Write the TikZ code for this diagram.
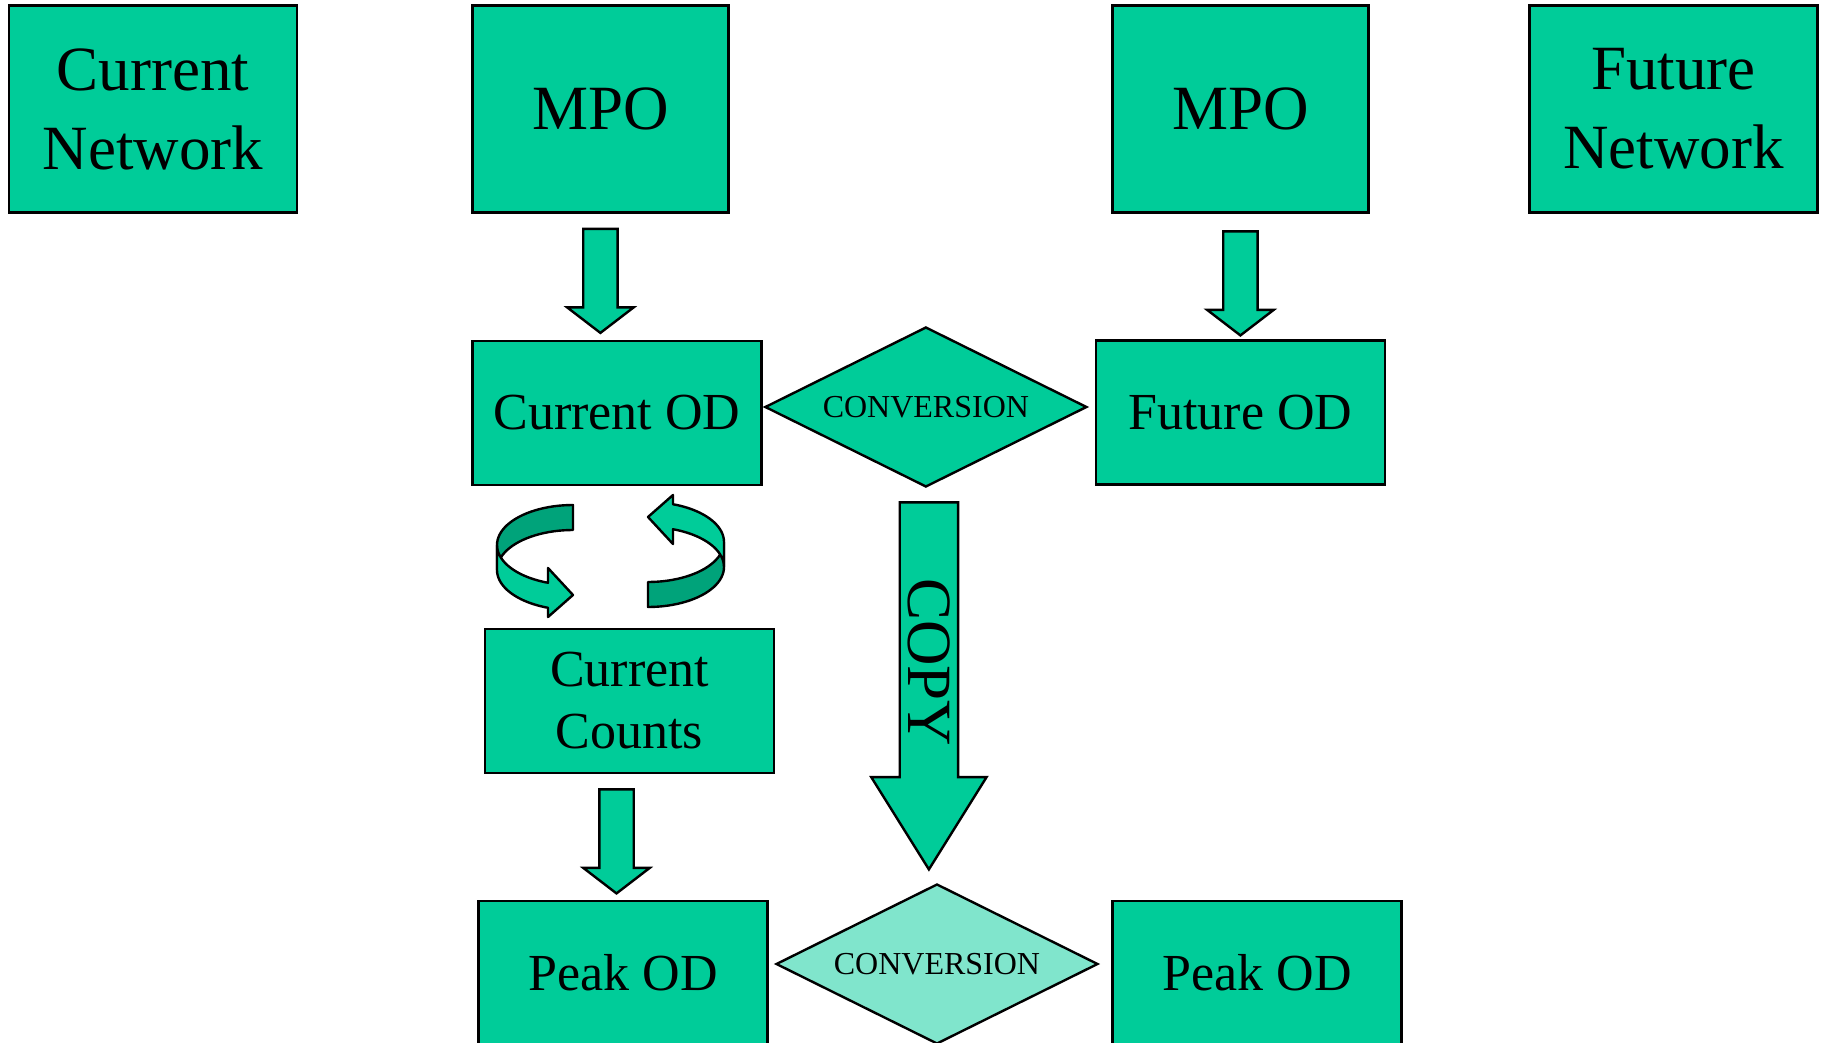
\documentclass[tikz,border=0pt]{standalone}
\usepackage{fontspec}
\setmainfont{Liberation Serif}
\usetikzlibrary{positioning,calc,shapes.geometric,shapes.arrows}
\definecolor{odgreen}{RGB}{0,204,153}
\definecolor{odshade}{RGB}{0,163,122}
\definecolor{odpale}{RGB}{128,229,204}
\newcommand{\netfont}{\fontsize{63}{79}\selectfont}
\newcommand{\odfont}{\fontsize{52}{62}\selectfont}
\newcommand{\convfont}{\fontsize{32}{38}\selectfont}

\tikzset{
  ribbon/.pic={
    % back half of the ring
    \filldraw[fill=odshade,draw=black,line width=2.4pt,line join=round]
      plot[domain=270:180] ({76*cos(\x)},{40*sin(\x)})
      -- plot[domain=180:270] ({76*cos(\x)},{25+40*sin(\x)}) -- cycle;
    % front half with the head
    \filldraw[fill=odgreen,draw=black,line width=2.4pt,line join=round]
      plot[domain=180:109.2] ({76*cos(\x)},{40*sin(\x)})
      -- (-25,23) -- (0,50) -- (-25,72)
      -- plot[domain=109.2:180] ({76*cos(\x)},{25+40*sin(\x)}) -- cycle;
  }
}

\begin{document}
\begin{tikzpicture}[
  x=1pt, y=-1pt,
  box/.style={draw,line width=2.4pt,fill=odgreen,align=center,inner sep=0pt,
              minimum width=289pt,minimum height=144pt,font=\odfont},
  tallbox/.style={box,minimum width=288pt,minimum height=207pt,font=\netfont},
  conv/.style={draw,diamond,aspect=2,line width=2.4pt,fill=odgreen,inner sep=0pt,
               minimum width=322pt,minimum height=160pt,font=\convfont},
  flow/.style={single arrow,draw,line width=2.4pt,fill=odgreen,rotate=-90,
               minimum height=104pt,inner xsep=0pt,inner ysep=16pt,
               single arrow head extend=16pt,single arrow tip angle=105},
  copyflow/.style={flow,minimum height=367pt,inner ysep=28pt,
                   single arrow head extend=28.5pt,single arrow tip angle=64}
]
\useasboundingbox (0,0) rectangle (1824,1043);
\clip (0,0) rectangle (1824,1043);

% top row
\node[tallbox] (curnet) at (153,109) {Current\\Network};
\node[tallbox,minimum width=256pt,right=173pt of curnet] (mpocur) {MPO};
\node[tallbox,minimum width=256pt,right=381.6pt of mpocur] (mpofut) {MPO};
\node[tallbox,right=158.6pt of mpofut] (futnet) {Future\\Network};

% OD row
\node[box] (curod) at (617,413) {Current OD};
\node[conv,right=1pt of curod,yshift=6pt] (convcur) {CONVERSION};
\node[box,below=125.6pt of mpofut] (futod) {Future OD};
\node[flow,below=14pt of mpocur,anchor=tail] (mpotocur) {};
\node[flow,below=16.5pt of mpofut,anchor=tail] (mpotofut) {};

% calibration loop
\pic at (573,545) {ribbon};
\pic[rotate=180] at (648,567) {ribbon};
\node[box] (counts) at (629.5,701) {Current\\Counts};

% copy down
\node[xshift=3pt,copyflow,below=13pt of convcur,anchor=tail] (copy) {};
\node[rotate=-90,font=\netfont] (copytext) at ($(copy.tail)+(0,161)$) {COPY};

% peak row
\node[xshift=-13pt,flow,below=14pt of counts,anchor=tail] (countstopeak) {};
\node[box] (peakcur) at (623,973) {Peak OD};
\node[conv,fill=odpale] (convpeak) at (937,964) {CONVERSION};
\node[box] (peakfut) at (1257,973) {Peak OD};
\end{tikzpicture}
\end{document}
